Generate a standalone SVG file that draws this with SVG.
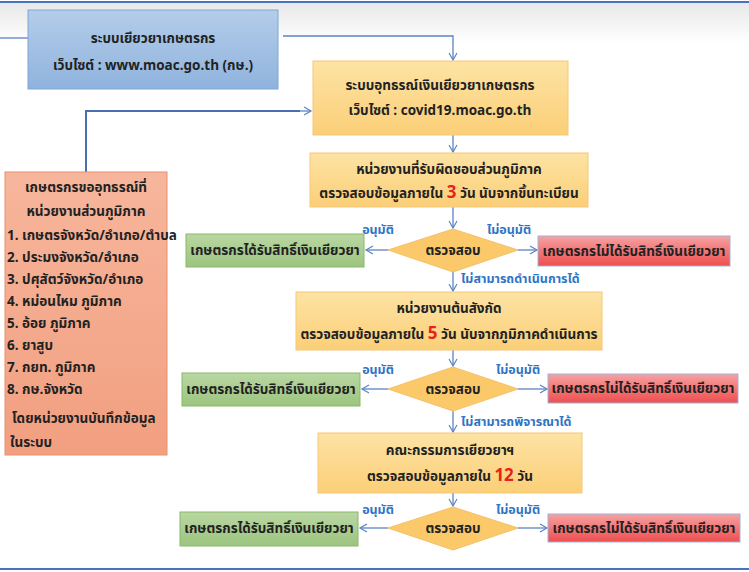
<svg xmlns="http://www.w3.org/2000/svg" width="749" height="572" viewBox="0 0 749 572">
<defs>
<linearGradient id="gb" x1="0" y1="0" x2="0" y2="1"><stop offset="0" stop-color="#b4cde9"/><stop offset="1" stop-color="#8fb3de"/></linearGradient>
<linearGradient id="gy" x1="0" y1="0" x2="0" y2="1"><stop offset="0" stop-color="#fde3a4"/><stop offset="1" stop-color="#fbcf78"/></linearGradient>
<linearGradient id="gg" x1="0" y1="0" x2="0" y2="1"><stop offset="0" stop-color="#b9d7a2"/><stop offset="1" stop-color="#9cc47f"/></linearGradient>
<linearGradient id="gr" x1="0" y1="0" x2="0" y2="1"><stop offset="0" stop-color="#f7a1a1"/><stop offset="1" stop-color="#ee4e4e"/></linearGradient>
<linearGradient id="gs" x1="0" y1="0" x2="0" y2="1"><stop offset="0" stop-color="#f7b69c"/><stop offset="1" stop-color="#f29f80"/></linearGradient>
<linearGradient id="gt" x1="0" y1="0" x2="0" y2="1"><stop offset="0" stop-color="#e8e8e8"/><stop offset="1" stop-color="#ffffff"/></linearGradient>
<marker id="ar" markerWidth="10" markerHeight="10" refX="8" refY="5" orient="auto" markerUnits="userSpaceOnUse"><path d="M1,1 L8,5 L1,9" fill="none" stroke="#5b84c4" stroke-width="1.2"/></marker>
</defs>
<style>
text{font-family:"Noto Sans Thai","Noto Sans","DejaVu Sans",sans-serif;font-weight:bold;font-size:13.5px;fill:#222;}
.c{text-anchor:middle}
.lb{fill:#2e74c4;font-size:12.5px}
.red{fill:#e8211c;font-size:17px}
.ln{stroke:#5b84c4;stroke-width:1.3;fill:none}
.ln2{stroke:#4a6fb0;stroke-width:2;fill:none}
.y{fill:url(#gy);stroke:#f5c878}
.g{fill:url(#gg);stroke:#8ab86a}
.r{fill:url(#gr);stroke:#9bb4dd}
.d{fill:#fcc96a;stroke:#f5c06a}
</style>
<rect x="0" y="3" width="749" height="40" fill="url(#gt)"/>
<line x1="0" y1="2" x2="749" y2="2" stroke="#4a72c0" stroke-width="2"/>
<line x1="0" y1="569" x2="749" y2="569" stroke="#4a72c0" stroke-width="2"/>
<g id="connectors">
<path class="ln" d="M0,38 H28"/>
<path class="ln" d="M283,36 H453 V60" marker-end="url(#ar)"/>
<path class="ln2" d="M86,172 V111 H300"/>
<path class="ln" d="M300,111 H311" marker-end="url(#ar)"/>
<path class="ln" d="M453,135 V152" marker-end="url(#ar)"/>
<path class="ln" d="M453,207 V228" marker-end="url(#ar)"/>
<path class="ln" d="M388,250 H366" marker-end="url(#ar)"/>
<path class="ln" d="M518,250 H537" marker-end="url(#ar)"/>
<path class="ln" d="M453,272 V291" marker-end="url(#ar)"/>
<path class="ln" d="M453,350 V366" marker-end="url(#ar)"/>
<path class="ln" d="M388,389 H362" marker-end="url(#ar)"/>
<path class="ln" d="M518,389 H547" marker-end="url(#ar)"/>
<path class="ln" d="M453,411 V432" marker-end="url(#ar)"/>
<path class="ln" d="M453,493 V506" marker-end="url(#ar)"/>
<path class="ln" d="M388,528 H360" marker-end="url(#ar)"/>
<path class="ln" d="M518,528 H547" marker-end="url(#ar)"/>
<text class="lb" x="378" y="234" text-anchor="middle">อนุมัติ</text>
<text class="lb" x="509" y="234" text-anchor="middle">ไม่อนุมัติ</text>
<text class="lb" x="461" y="283">ไม่สามารถดำเนินการได้</text>
<text class="lb" x="378" y="374" text-anchor="middle">อนุมัติ</text>
<text class="lb" x="518" y="374" text-anchor="middle">ไม่อนุมัติ</text>
<text class="lb" x="461" y="426">ไม่สามารถพิจารณาได้</text>
<text class="lb" x="378" y="514" text-anchor="middle">อนุมัติ</text>
<text class="lb" x="518" y="514" text-anchor="middle">ไม่อนุมัติ</text>
</g>
<g id="n-blue"><rect x="28" y="10" width="250" height="79" fill="url(#gb)" stroke="#7fa6d6"/>
<text class="c" x="153" y="43" font-size="15">ระบบเยียวยาเกษตรกร</text>
<text class="c" x="153" y="70" font-size="15">เว็บไซต์ : www.moac.go.th    (กษ.)</text></g>
<g id="n-sys"><rect class="y" x="313" y="61" width="255" height="74"/>
<text class="c" x="440" y="90">ระบบอุทธรณ์เงินเยียวยาเกษตรกร</text>
<text class="c" x="440" y="115">เว็บไซต์  : covid19.moac.go.th</text></g>
<g id="n-list"><rect x="5" y="172" width="162" height="283" fill="url(#gs)" stroke="#e8906e"/>
<text class="c" x="86" y="192">เกษตรกรขออุทธรณ์ที่</text>
<text class="c" x="86" y="216">หน่วยงานส่วนภูมิภาค</text>
<text x="7" y="240" font-size="12.5">1.  เกษตรจังหวัด/อำเภอ/ตำบล</text>
<text x="7" y="262">2. ประมงจังหวัด/อำเภอ</text>
<text x="7" y="284">3. ปศุสัตว์จังหวัด/อำเภอ</text>
<text x="7" y="306">4. หม่อนไหม ภูมิภาค</text>
<text x="7" y="328">5. อ้อย ภูมิภาค</text>
<text x="7" y="350">6. ยาสูบ</text>
<text x="7" y="372">7. กยท. ภูมิภาค</text>
<text x="7" y="394">8. กษ.จังหวัด</text>
<text x="12" y="423">โดยหน่วยงานบันทึกข้อมูล</text>
<text x="10" y="447">ในระบบ</text>
</g>
<g id="n-reg"><rect class="y" x="310" y="153" width="278" height="54"/>
<text class="c" x="449" y="174">หน่วยงานที่รับผิดชอบส่วนภูมิภาค</text>
<text class="c" x="449" y="198">ตรวจสอบข้อมูลภายใน <tspan class="red">3</tspan> วัน นับจากขึ้นทะเบียน</text></g>
<g id="d1"><polygon class="d" points="453,229 518,250 453,272 388,250"/><text class="c" x="453" y="255">ตรวจสอบ</text></g>
<g id="g1"><rect class="g" x="186" y="234" width="178" height="33"/><text class="c" x="275" y="255">เกษตรกรได้รับสิทธิ์เงินเยียวยา</text></g>
<g id="r1"><rect class="r" x="538" y="236" width="192" height="30"/><text class="c" x="634" y="256">เกษตรกรไม่ได้รับสิทธิ์เงินเยียวยา</text></g>
<g id="n-dept"><rect class="y" x="296" y="292" width="306" height="58"/>
<text class="c" x="449" y="313">หน่วยงานต้นสังกัด</text>
<text class="c" x="449" y="339">ตรวจสอบข้อมูลภายใน  <tspan class="red">5</tspan>  วัน นับจากภูมิภาคดำเนินการ</text></g>
<g id="d2"><polygon class="d" points="453,367 518,389 453,411 388,389"/><text class="c" x="453" y="394">ตรวจสอบ</text></g>
<g id="g2"><rect class="g" x="182" y="373" width="178" height="33"/><text class="c" x="271" y="394">เกษตรกรได้รับสิทธิ์เงินเยียวยา</text></g>
<g id="r2"><rect class="r" x="548" y="374" width="190" height="29"/><text class="c" x="643" y="393">เกษตรกรไม่ได้รับสิทธิ์เงินเยียวยา</text></g>
<g id="n-comm"><rect class="y" x="318" y="433" width="264" height="60"/>
<text class="c" x="450" y="455">คณะกรรมการเยียวยาฯ</text>
<text class="c" x="450" y="481">ตรวจสอบข้อมูลภายใน  <tspan class="red">12</tspan>  วัน</text></g>
<g id="d3"><polygon class="d" points="453,507 518,528 453,550 388,528"/><text class="c" x="453" y="533">ตรวจสอบ</text></g>
<g id="g3"><rect class="g" x="180" y="512" width="178" height="34"/><text class="c" x="269" y="533">เกษตรกรได้รับสิทธิ์เงินเยียวยา</text></g>
<g id="r3"><rect class="r" x="548" y="514" width="192" height="28"/><text class="c" x="644" y="533">เกษตรกรไม่ได้รับสิทธิ์เงินเยียวยา</text></g>
</svg>
